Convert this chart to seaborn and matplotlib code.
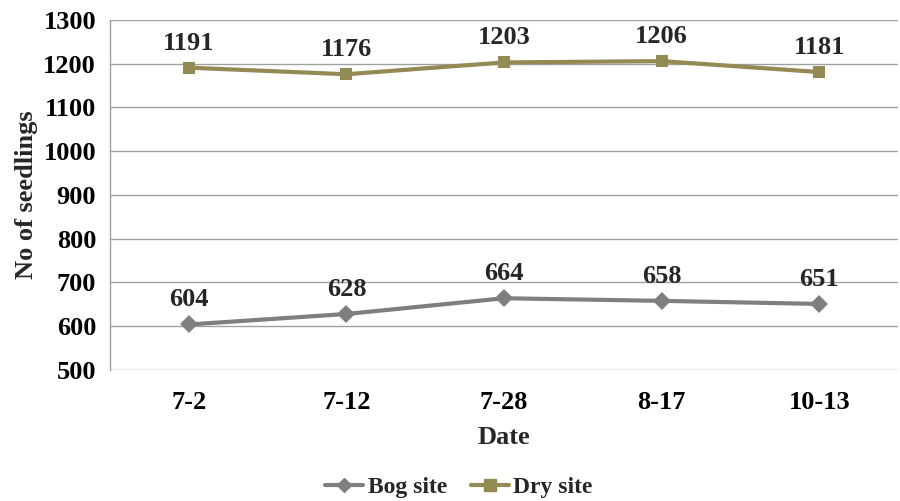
import matplotlib
matplotlib.use("Agg")
import matplotlib.pyplot as plt
from matplotlib.ticker import FixedLocator
import seaborn as sns
import pandas as pd

dates = ["7-2", "7-12", "7-28", "8-17", "10-13"]
bog_site = [604, 628, 664, 658, 651]
dry_site = [1191, 1176, 1203, 1206, 1181]
y_ticks = [500, 600, 700, 800, 900, 1000, 1100, 1200, 1300]

sns.set_theme(style="white")
plt.rcParams["font.family"] = ["Liberation Serif", "DejaVu Serif"]
plt.rcParams["font.weight"] = "bold"

FS = 19

pos = list(range(len(dates)))
df = pd.DataFrame({
    "pos": pos * 2,
    "value": bog_site + dry_site,
    "site": ["Bog site"] * len(dates) + ["Dry site"] * len(dates),
})

colors = {"Bog site": "#7f7f7f", "Dry site": "#948a54"}

fig = plt.figure(figsize=(9, 5.01), dpi=100)
ax = fig.add_axes([0.1222, 0.2615, 0.8756, 0.6986])

sns.lineplot(data=df, x="pos", y="value", hue="site", style="site",
             markers={"Bog site": "D", "Dry site": "s"}, dashes=False,
             palette=colors, linewidth=3, markersize=9, markeredgewidth=0,
             ax=ax, legend=False)

ax.set_xlim(-0.5, len(dates) - 0.5)
ax.set_ylim(500, 1300)
ax.set_yticks(y_ticks)
ax.set_yticklabels([str(v) for v in y_ticks], fontsize=FS, fontweight="bold")
ax.set_xticks(pos)
ax.set_xticklabels(dates, fontsize=FS, fontweight="bold")
ax.xaxis.set_minor_locator(FixedLocator([p - 0.5 for p in range(len(dates) + 1)]))
ax.tick_params(axis="x", which="major", length=0, pad=15)
ax.tick_params(axis="x", which="minor", length=8, width=1, color="#a0a0a0", direction="out")
ax.tick_params(axis="y", length=6, width=1, color="#a0a0a0", direction="out", pad=4)
ax.tick_params(axis="both", labelcolor="black")

ax.grid(axis="y", color="#a0a0a0", linewidth=1)
ax.set_axisbelow(True)
for side in ["top", "right", "bottom"]:
    ax.spines[side].set_visible(False)
ax.spines["left"].set_color("#a0a0a0")
ax.spines["left"].set_linewidth(1)

ax.set_xlabel("Date", fontsize=FS, fontweight="bold", labelpad=9)
ax.set_ylabel("No of seedlings", fontsize=FS, fontweight="bold", labelpad=4)

for series in (bog_site, dry_site):
    for p, v in zip(pos, series):
        ax.annotate(str(v), (p, v), xytext=(0, 13), textcoords="offset points",
                    ha="center", va="baseline", fontsize=FS, fontweight="bold")

handles = [
    plt.Line2D([], [], color=colors["Bog site"], marker="D", linewidth=3, markersize=7),
    plt.Line2D([], [], color=colors["Dry site"], marker="s", linewidth=3, markersize=8),
]
fig.legend(handles, ["Bog site", "Dry site"], loc="center", bbox_to_anchor=(0.51, 0.027),
           ncol=2, frameon=False, prop={"weight": "bold", "size": 17},
           handlelength=1.6, handletextpad=0.2, columnspacing=1.0)

fig.savefig("out.png", dpi=100)
